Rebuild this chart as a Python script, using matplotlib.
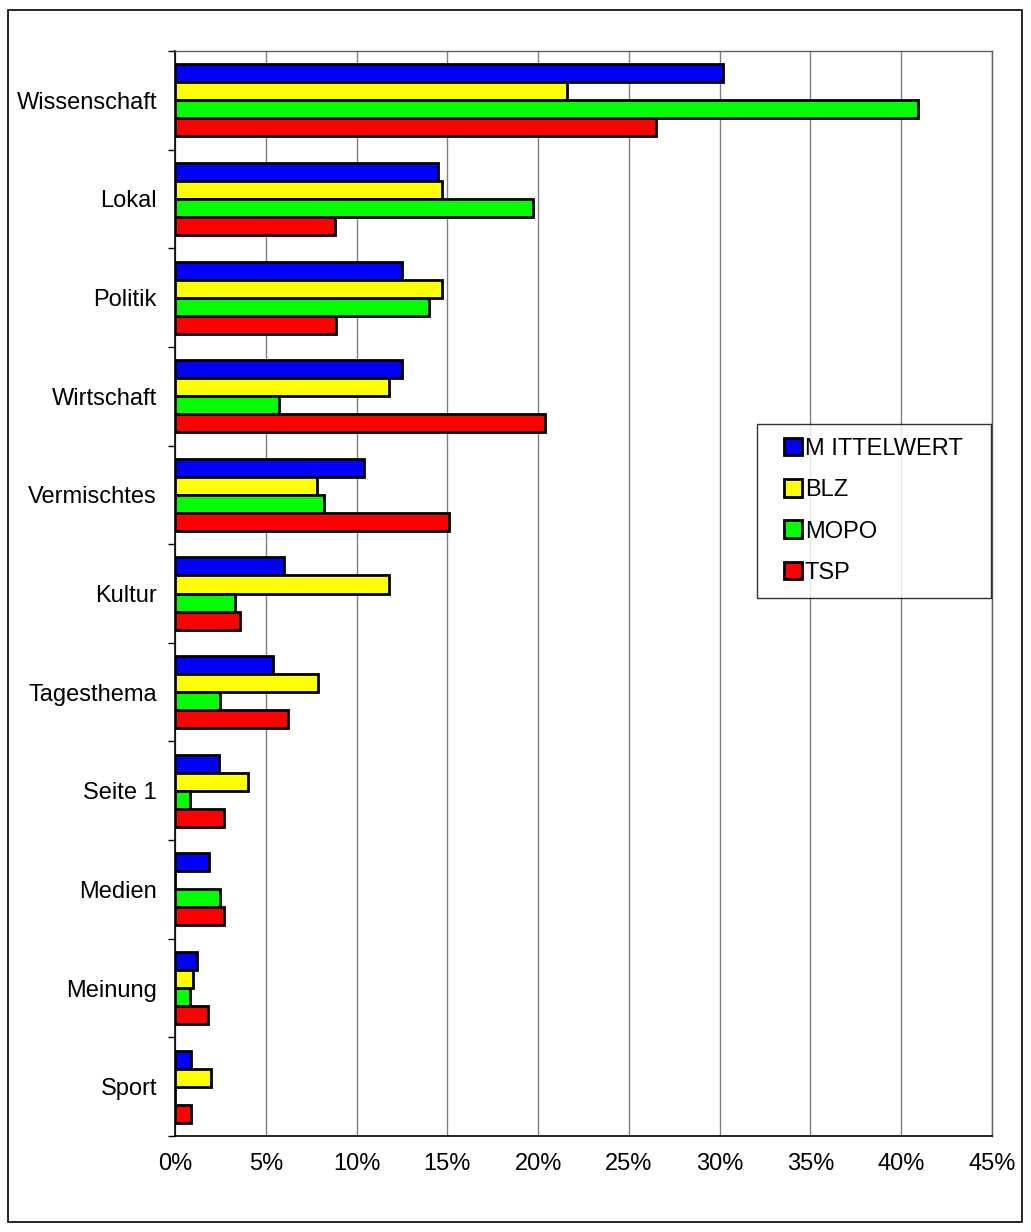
import numpy as np
import matplotlib
matplotlib.use("Agg")
import matplotlib.pyplot as plt
from matplotlib.patches import Rectangle
from matplotlib.container import BarContainer
from matplotlib.legend_handler import HandlerPatch
from matplotlib.ticker import FixedLocator, FuncFormatter

plt.rcParams['font.family'] = ['Liberation Sans', 'DejaVu Sans']

categories = ['Wissenschaft', 'Lokal', 'Politik', 'Wirtschaft', 'Vermischtes',
              'Kultur', 'Tagesthema', 'Seite 1', 'Medien', 'Meinung', 'Sport']
series_names = ['M ITTELWERT', 'BLZ', 'MOPO', 'TSP']
mittelwert = [30.2, 14.5, 12.5, 12.5, 10.4, 6.0, 5.4, 2.45, 1.85, 1.2, 0.9]
blz = [21.6, 14.7, 14.7, 11.8, 7.8, 11.8, 7.85, 4.0, 0.0, 1.0, 2.0]
mopo = [40.95, 19.7, 14.0, 5.75, 8.2, 3.3, 2.5, 0.85, 2.5, 0.85, 0.0]
tsp = [26.5, 8.8, 8.85, 20.4, 15.1, 3.6, 6.2, 2.7, 2.7, 1.8, 0.9]
colors = ['#0000FF', '#FFFF00', '#00FF00', '#FF0000']

fig = plt.figure(figsize=(10.31, 12.32), dpi=100)
ax = fig.add_axes([175 / 1031, 1 - 1136 / 1232, (992 - 175) / 1031, (1136 - 51) / 1232])

y = np.arange(len(categories))
h = 0.1825
for i, (vals, name, c) in enumerate(zip([mittelwert, blz, mopo, tsp], series_names, colors)):
    ax.barh(y + (i - 1.5) * h, vals, height=h, color=c, edgecolor='black',
            linewidth=2.0, label=name, zorder=3)

ax.set_xlim(0, 45)
ax.set_ylim(len(categories) - 0.5, -0.5)
ax.xaxis.set_major_locator(FixedLocator(np.arange(0, 46, 5)))
ax.xaxis.set_major_formatter(FuncFormatter(lambda v, p: '%d%%' % v))
ax.grid(axis='x', color='#808080', linewidth=1, zorder=0)

ax.set_yticks(y)
ax.set_yticklabels(categories)
ax.set_yticks(np.arange(len(categories) + 1) - 0.5, minor=True)
ax.tick_params(axis='y', which='major', length=0, pad=13, labelsize=17)
ax.tick_params(axis='y', which='minor', length=5, width=1, direction='out')
ax.tick_params(axis='x', length=0, pad=12, labelsize=17)

for s in ['left', 'bottom']:
    ax.spines[s].set_color('black')
    ax.spines[s].set_linewidth(1.2)
for s in ['top', 'right']:
    ax.spines[s].set_color('#606060')
    ax.spines[s].set_linewidth(1)


# square legend keys, pushed a bit to the right inside the box
def square_key(legend, orig_handle, xdescent, ydescent, width, height, fontsize):
    side = 0.75 * fontsize
    return Rectangle((width - side - xdescent, -ydescent), side, side)


def copy_style(legend_handle, orig_handle):
    legend_handle.update_from(orig_handle[0])


leg = ax.legend(loc='upper left', bbox_to_anchor=(757 / 1031, 1 - 425 / 1232, 234 / 1031, 0.001),
                bbox_transform=fig.transFigure, mode='expand', borderaxespad=0,
                fontsize=17, handlelength=1.3, handleheight=0.75, handletextpad=0.12,
                labelspacing=0.82, borderpad=0.6, fancybox=False, frameon=True,
                handler_map={BarContainer: HandlerPatch(patch_func=square_key,
                                                        update_func=copy_style)})
leg.get_frame().set_edgecolor('black')
leg.get_frame().set_linewidth(1)
for p in leg.get_patches():
    p.set_linewidth(2.0)

fig.patches.append(Rectangle((8 / 1031, 10 / 1232), 1014 / 1031, 1212 / 1232,
                             transform=fig.transFigure, fill=False,
                             edgecolor='black', linewidth=1.2))

fig.savefig('out.png', dpi=100)
